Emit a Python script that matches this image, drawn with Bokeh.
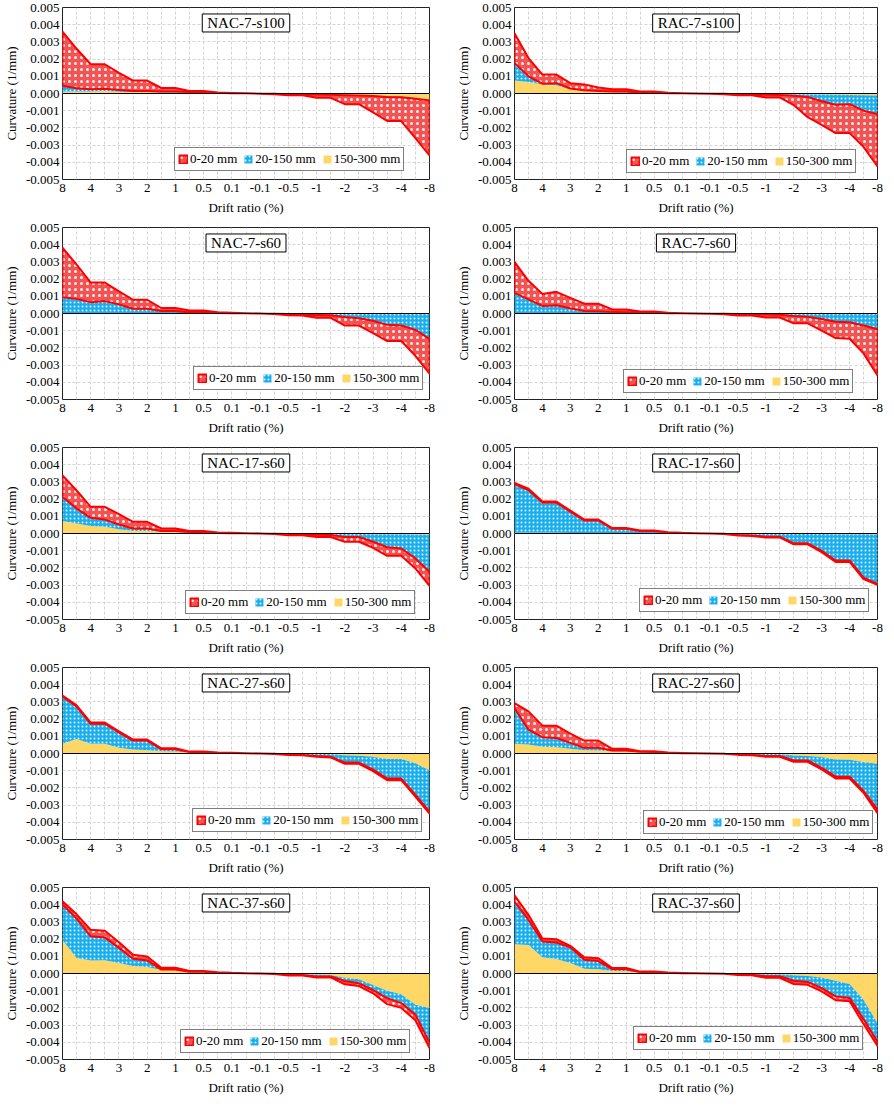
import numpy as np
from bokeh.plotting import figure
from bokeh.layouts import gridplot
from bokeh.models import (Range1d, FixedTicker, NumeralTickFormatter, Legend,
                          LegendItem, Label, Span, ColumnDataSource)
from bokeh.embed import file_html
from bokeh.resources import INLINE

# ---------------- data ----------------
steps = list(range(27))                     # loading steps (two per drift level)
drift_ticks = [0, 2, 4, 6, 8, 10, 12, 14, 16, 18, 20, 22, 24, 26]
drift_labels = ["8", "4", "3", "2", "1", "0.5", "0.1", "-0.1", "-0.5", "-1",
                "-2", "-3", "-4", "-8"]
y_ticks = [-0.005, -0.004, -0.003, -0.002, -0.001, 0.0, 0.001, 0.002, 0.003, 0.004, 0.005]
series_names = ["0-20 mm", "20-150 mm", "150-300 mm"]
UNIT = 1e-3   # values below are curvature in 10^-3 1/mm

specimens = ["NAC-7-s100", "RAC-7-s100", "NAC-7-s60", "RAC-7-s60", "NAC-17-s60",
             "RAC-17-s60", "NAC-27-s60", "RAC-27-s60", "NAC-37-s60", "RAC-37-s60"]

nac7s100_0_20 = [3.15, 2.3, 1.45, 1.42, 1.0, 0.6, 0.6, 0.2, 0.2, 0.07, 0.08, 0.02, 0.01, 0, 0, -0.02, -0.06, -0.05, -0.19, -0.18, -0.52, -0.5, -0.95, -1.4, -1.38, -2.3, -3.2]
nac7s100_20_150 = [0.33, 0.18, 0.13, 0.13, 0.10, 0.07, 0.07, 0.06, 0.06, 0.04, 0.04, 0.02, 0.01, 0.01, -0.01, -0.01, -0.02, -0.02, -0.02, -0.02, -0.03, -0.03, -0.03, -0.05, -0.04, -0.04, -0.05]
nac7s100_150_300 = [0.12, 0.12, 0.12, 0.15, 0.10, 0.08, 0.08, 0.06, 0.06, 0.04, 0.03, 0.02, 0.01, 0, 0, -0.01, -0.02, -0.03, -0.04, -0.05, -0.07, -0.09, -0.12, -0.15, -0.18, -0.26, -0.35]

rac7s100_0_20 = [1.72, 1.06, 0.53, 0.5, 0.31, 0.34, 0.2, 0.13, 0.14, 0.06, 0.07, 0.02, 0.01, 0, -0.01, -0.03, -0.06, -0.05, -0.16, -0.15, -0.54, -1.18, -1.37, -1.65, -1.68, -2.1, -3.04]
rac7s100_20_150 = [1.02, 0.33, 0.05, 0.12, 0.04, 0.04, 0.03, 0.04, 0.04, 0.02, 0.02, 0, 0, 0, -0.01, -0.01, -0.03, -0.03, -0.05, -0.05, -0.09, -0.15, -0.39, -0.58, -0.54, -0.9, -1.08]
rac7s100_150_300 = [0.76, 0.67, 0.52, 0.48, 0.25, 0.15, 0.12, 0.08, 0.07, 0.04, 0.03, 0.02, 0.01, 0, 0, -0.01, -0.01, -0.02, -0.02, -0.03, -0.04, -0.05, -0.06, -0.07, -0.08, -0.1, -0.12]

nac7s60_0_20 = [2.88, 1.99, 1.14, 1.08, 0.76, 0.52, 0.52, 0.17, 0.17, 0.11, 0.11, 0.04, 0.02, 0.01, 0, -0.02, -0.07, -0.07, -0.17, -0.15, -0.5, -0.42, -0.72, -0.94, -0.9, -1.51, -2.02]
nac7s60_20_150 = [0.92, 0.82, 0.63, 0.69, 0.51, 0.26, 0.26, 0.14, 0.14, 0.05, 0.05, 0.02, 0.02, 0.01, 0, -0.01, -0.03, -0.04, -0.07, -0.09, -0.19, -0.27, -0.40, -0.64, -0.68, -0.93, -1.45]
nac7s60_150_300 = [0.03, 0.03, 0.03, 0.03, 0.02, 0.02, 0.02, 0.01, 0.01, 0.01, 0.01, 0.01, 0, 0, 0, 0, 0, -0.01, -0.01, -0.01, -0.01, -0.01, -0.02, -0.02, -0.02, -0.02, -0.03]

rac7s60_0_20 = [1.8, 1.08, 0.7, 0.78, 0.61, 0.42, 0.44, 0.15, 0.16, 0.07, 0.07, 0.03, 0.01, 0, -0.01, -0.03, -0.09, -0.08, -0.17, -0.16, -0.42, -0.38, -0.67, -0.95, -0.96, -1.62, -2.68]
rac7s60_20_150 = [1.18, 0.8, 0.42, 0.46, 0.28, 0.14, 0.12, 0.07, 0.06, 0.03, 0.03, 0.02, 0.01, 0, -0.01, -0.02, -0.03, -0.03, -0.05, -0.06, -0.14, -0.18, -0.30, -0.46, -0.49, -0.68, -0.89]
rac7s60_150_300 = [0.02, 0.02, 0.02, 0.02, 0.02, 0.01, 0.01, 0.01, 0.01, 0.01, 0.01, 0, 0, 0, 0, 0, 0, -0.01, -0.01, -0.01, -0.01, -0.01, -0.02, -0.02, -0.02, -0.02, -0.03]

nac17s60_0_20 = [1.25, 1.05, 0.64, 0.74, 0.6, 0.39, 0.39, 0.14, 0.14, 0.06, 0.07, 0.03, 0.02, 0.01, 0, -0.02, -0.07, -0.06, -0.13, -0.12, -0.28, -0.28, -0.35, -0.5, -0.43, -0.58, -0.82]
nac17s60_20_150 = [1.41, 0.87, 0.48, 0.42, 0.27, 0.14, 0.14, 0.05, 0.06, 0.03, 0.02, 0.01, 0.01, 0.01, 0, -0.01, -0.02, -0.03, -0.05, -0.06, -0.17, -0.17, -0.44, -0.75, -0.82, -1.39, -2.15]
nac17s60_150_300 = [0.72, 0.58, 0.43, 0.39, 0.25, 0.15, 0.15, 0.1, 0.09, 0.05, 0.05, 0.02, 0.01, 0, 0, 0, -0.01, -0.01, -0.02, -0.02, -0.03, -0.03, -0.04, -0.05, -0.05, -0.06, -0.07]

rac17s60_0_20 = [0.07, 0.07, 0.06, 0.06, 0.06, 0.05, 0.05, 0.04, 0.04, 0.03, 0.03, 0.02, 0.01, 0.01, 0, -0.01, -0.02, -0.03, -0.04, -0.04, -0.06, -0.06, -0.07, -0.08, -0.08, -0.08, -0.06]
rac17s60_20_150 = [2.82, 2.48, 1.76, 1.76, 1.24, 0.73, 0.73, 0.26, 0.26, 0.13, 0.13, 0.05, 0.03, 0.01, 0, -0.02, -0.09, -0.10, -0.18, -0.18, -0.55, -0.55, -0.98, -1.53, -1.53, -2.52, -2.87]
rac17s60_150_300 = [0.05, 0.05, 0.04, 0.04, 0.03, 0.03, 0.03, 0.02, 0.02, 0.01, 0.01, 0.01, 0, 0, 0, 0, 0, -0.01, -0.01, -0.01, -0.02, -0.02, -0.03, -0.04, -0.04, -0.05, -0.06]

nac27s60_0_20 = [0.07, 0.07, 0.07, 0.07, 0.06, 0.06, 0.06, 0.05, 0.05, 0.03, 0.03, 0.02, 0.01, 0.01, 0, -0.01, -0.02, -0.02, -0.04, -0.04, -0.07, -0.07, -0.08, -0.09, -0.09, -0.1, -0.12]
nac27s60_20_150 = [2.73, 1.88, 1.16, 1.16, 0.89, 0.52, 0.56, 0.12, 0.13, 0.01, 0.02, 0.01, 0.01, 0, 0, -0.02, -0.06, -0.07, -0.13, -0.16, -0.43, -0.4, -0.75, -1.14, -1.14, -1.83, -2.4]
nac27s60_150_300 = [0.57, 0.85, 0.57, 0.57, 0.34, 0.23, 0.19, 0.13, 0.12, 0.07, 0.06, 0.03, 0.02, 0.01, 0, 0, -0.01, -0.01, -0.02, -0.03, -0.1, -0.13, -0.19, -0.32, -0.32, -0.57, -0.98]

rac27s60_0_20 = [0.29, 1.06, 0.67, 0.72, 0.54, 0.42, 0.42, 0.1, 0.1, 0.03, 0.04, 0.02, 0.01, 0, 0, -0.01, -0.02, -0.03, -0.05, -0.05, -0.08, -0.08, -0.09, -0.1, -0.1, -0.1, -0.22]
rac27s60_20_150 = [2.08, 0.87, 0.56, 0.53, 0.35, 0.14, 0.16, 0.05, 0.06, 0.03, 0.03, 0.01, 0.01, 0.01, 0, -0.01, -0.05, -0.06, -0.12, -0.11, -0.29, -0.25, -0.63, -1.0, -0.98, -1.68, -2.65]
rac27s60_150_300 = [0.56, 0.52, 0.39, 0.37, 0.27, 0.19, 0.17, 0.12, 0.11, 0.07, 0.06, 0.03, 0.01, 0, 0, 0, -0.01, -0.01, -0.02, -0.03, -0.11, -0.15, -0.21, -0.35, -0.37, -0.5, -0.6]

nac37s60_0_20 = [0.2, 0.25, 0.38, 0.39, 0.33, 0.23, 0.23, 0.1, 0.1, 0.05, 0.05, 0.03, 0.01, 0.01, 0, -0.01, -0.03, -0.03, -0.06, -0.06, -0.19, -0.16, -0.19, -0.35, -0.28, -0.33, -0.32]
nac37s60_20_150 = [2.05, 2.29, 1.4, 1.33, 0.88, 0.42, 0.38, 0.03, 0.04, 0.01, 0.02, 0.01, 0.01, 0, 0, -0.01, -0.05, -0.05, -0.11, -0.09, -0.19, -0.23, -0.29, -0.43, -0.52, -0.57, -2.02]
nac37s60_150_300 = [1.95, 0.9, 0.76, 0.77, 0.61, 0.44, 0.38, 0.2, 0.19, 0.09, 0.08, 0.04, 0.02, 0.01, 0, -0.01, -0.03, -0.04, -0.06, -0.08, -0.25, -0.34, -0.67, -1.0, -1.2, -1.82, -2.0]

rac37s60_0_20 = [0.38, 0.28, 0.17, 0.19, 0.09, 0.15, 0.17, 0.07, 0.07, 0.03, 0.03, 0.02, 0.01, 0, 0, -0.01, -0.03, -0.03, -0.09, -0.09, -0.19, -0.17, -0.19, -0.22, -0.19, -0.29, -0.24]
rac37s60_20_150 = [2.47, 1.48, 0.91, 0.95, 0.91, 0.52, 0.47, 0.1, 0.12, 0.02, 0.03, 0.02, 0.01, 0.01, 0, 0, -0.04, -0.04, -0.12, -0.11, -0.32, -0.34, -0.62, -0.91, -0.81, -1.13, -1.08]
rac37s60_150_300 = [1.7, 1.65, 0.95, 0.85, 0.61, 0.28, 0.25, 0.15, 0.13, 0.06, 0.05, 0.02, 0.01, 0, 0, -0.01, -0.02, -0.03, -0.04, -0.05, -0.1, -0.15, -0.23, -0.42, -0.61, -1.52, -2.9]

table = [
    (nac7s100_0_20, nac7s100_20_150, nac7s100_150_300),
    (rac7s100_0_20, rac7s100_20_150, rac7s100_150_300),
    (nac7s60_0_20, nac7s60_20_150, nac7s60_150_300),
    (rac7s60_0_20, rac7s60_20_150, rac7s60_150_300),
    (nac17s60_0_20, nac17s60_20_150, nac17s60_150_300),
    (rac17s60_0_20, rac17s60_20_150, rac17s60_150_300),
    (nac27s60_0_20, nac27s60_20_150, nac27s60_150_300),
    (rac27s60_0_20, rac27s60_20_150, rac27s60_150_300),
    (nac37s60_0_20, nac37s60_20_150, nac37s60_150_300),
    (rac37s60_0_20, rac37s60_20_150, rac37s60_150_300),
]

# ---------------- style ----------------
FONT = "Liberation Serif"
RED, BLUE, YELLOW = "#F25454", "#1AAFEC", "#FFD766"
legend_pos = [(112, 8), (112, 6), (131, 9), (109, 6), (123, 5),
              (125, 7), (130, 7), (129, 5), (118, 6), (119, 9)]


def make_panel(k):
    col = k % 2
    red_v, blue_v, yel_v = [np.array(a) * UNIT for a in table[k]]
    y1 = yel_v
    y2 = yel_v + blue_v
    y3 = yel_v + blue_v + red_v

    p = figure(frame_width=367 if col == 0 else 363, frame_height=172,
               min_border_left=57 if col == 0 else 67,
               min_border_right=18 if col == 0 else 12,
               min_border_top=7, min_border_bottom=41,
               x_range=Range1d(0, 26), y_range=Range1d(-0.005, 0.005),
               output_backend="svg", toolbar_location=None,
               background_fill_color="white", border_fill_color="white")

    src = ColumnDataSource(dict(x=steps, zero=[0.0] * len(steps), y1=y1, y2=y2))
    r_yel = p.varea(x="x", y1="zero", y2="y1", source=src, fill_color=YELLOW)
    r_blue = p.varea(x="x", y1="y1", y2="y2", source=src, fill_color=BLUE,
                     hatch_pattern="dot", hatch_color="white", hatch_scale=4,
                     hatch_weight=1, hatch_alpha=0.85)
    xs = steps + steps[::-1]
    ys = list(y3) + list(y2[::-1])
    r_red = p.patch(xs, ys, fill_color=RED, hatch_pattern="dot",
                    hatch_color="white", hatch_scale=6, hatch_weight=1,
                    hatch_alpha=0.9,
                    line_color="#FF0000", line_width=2, line_join="round")

    p.add_layout(Span(location=0, dimension="width", line_color="black", line_width=1))

    # axes
    p.xaxis.ticker = FixedTicker(ticks=drift_ticks)
    p.xaxis.major_label_overrides = {t: l for t, l in zip(drift_ticks, drift_labels)}
    p.yaxis.ticker = FixedTicker(ticks=y_ticks)
    p.yaxis.formatter = NumeralTickFormatter(format="0.000")
    p.xaxis.axis_label = "Drift ratio (%)"
    p.yaxis.axis_label = "Curvature (1/mm)"
    for ax in (p.xaxis, p.yaxis):
        ax.axis_label_text_font = FONT
        ax.axis_label_text_font_size = "13px"
        ax.axis_label_text_font_style = "normal"
        ax.axis_label_text_color = "black"
        ax.major_label_text_font = FONT
        ax.major_label_text_font_size = "13px"
        ax.major_label_text_color = "black"
        ax.major_tick_in = 0
        ax.major_tick_out = 0
        ax.minor_tick_in = 0
        ax.minor_tick_out = 0
        ax.axis_line_color = None
    p.xaxis.major_label_standoff = 4
    p.xaxis.axis_label_standoff = 5
    p.yaxis.major_label_standoff = 3
    p.yaxis.axis_label_standoff = 4

    # grid
    p.xgrid.ticker = FixedTicker(ticks=steps)
    p.ygrid.ticker = FixedTicker(ticks=y_ticks)
    for g in (p.xgrid, p.ygrid):
        g.grid_line_color = "#D4D4D4"
        g.grid_line_dash = "3 2"
        g.grid_line_width = 1
    p.outline_line_color = "#222222"
    p.outline_line_width = 1

    # title box
    p.add_layout(Label(x=13, y=0.0041, text=specimens[k], text_align="center",
                       text_baseline="middle", text_font=FONT, text_font_size="15px",
                       text_color="black", background_fill_color="white",
                       border_line_color="black", border_line_width=1,
                       padding=dict(left=5, right=5, top=1, bottom=1)))

    legend = Legend(items=[LegendItem(label=series_names[0], renderers=[r_red]),
                           LegendItem(label=series_names[1], renderers=[r_blue]),
                           LegendItem(label=series_names[2], renderers=[r_yel])],
                    orientation="horizontal", location=legend_pos[k],
                    label_text_font=FONT, label_text_font_size="13px",
                    label_text_color="black", glyph_width=10, glyph_height=10,
                    label_height=12, label_standoff=2, spacing=6, padding=3,
                    margin=0, border_line_color="black", border_line_width=1,
                    background_fill_color="white", background_fill_alpha=1)
    p.add_layout(legend, "center")
    return p


panels = [make_panel(k) for k in range(10)]
grid = gridplot([panels[i:i + 2] for i in range(0, 10, 2)], toolbar_location=None)

open("out.html", "w").write(file_html(grid, INLINE))
